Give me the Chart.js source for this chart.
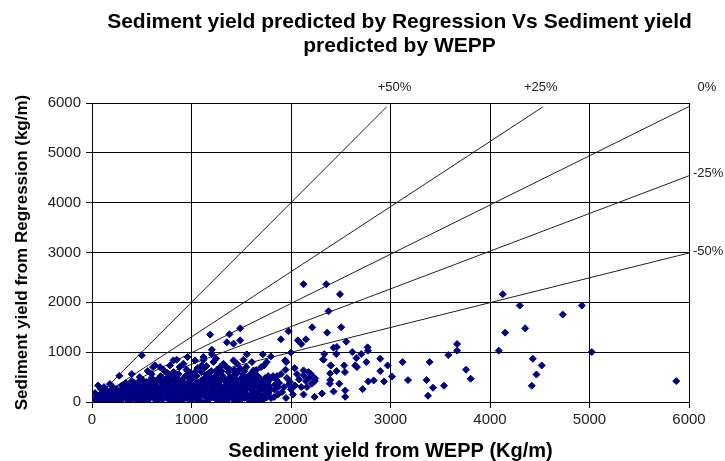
<!DOCTYPE html>
<html>
<head>
<meta charset="utf-8">
<title>Sediment yield - Regression vs WEPP</title>
<script src="https://cdn.jsdelivr.net/npm/chart.js@4.4.1/dist/chart.umd.min.js"></script>
<style>
  html, body { margin: 0; padding: 0; background: #fff; }
  #wrap { width: 725px; height: 461px; }
</style>
</head>
<body>
<div id="wrap"><canvas id="sedimentChart" width="725" height="461"></canvas></div>
<script>
/* ===== data ===== */

// [sediment yield from WEPP, sediment yield from Regression] (kg/m)
const sedimentPoints = [
  // far right, scattered
  [4128,2163],[4299,1935],[4731,1754],[4923,1935],[4152,1392],[4353,1479],[4088,1030],[5023,1002],
  [4430,869],[4520,734],[4467,553],[4420,326],[5872,419],
  [3669,1163],[3669,1030],[3581,942],[3759,648],[3806,467],[3393,801],[3122,801],[3176,439],
  [3363,439],[3427,286],[3377,125],[3538,326],
  [3015,513],[2971,734],[2935,412],[2897,869],[2897,620],[2831,433],[2777,412],[2720,258],
  // 2000 - 2900
  [2126,2364],[2354,2364],[2492,2163],[2377,1821],[2213,1499],[2505,1499],[2364,1392],[1975,1418],
  [1898,1258],[2069,1237],[2150,1258],[2103,1163],[2555,1211],[2428,1090],[2770,1097],[2773,1030],
  [2616,1002],[2706,962],[2656,881],[2334,962],[2455,962],[2327,849],[2757,801],[2646,734],
  [2663,700],[2535,734],[2398,734],[2458,620],[2542,600],[2394,440],[2391,366],[2485,366],
  [2210,366],[2103,300],[2126,533],[2220,500],[2036,680],[1952,801],[1945,648],[1868,151],
  [1835,250],[2019,151],[2126,151],[2237,104],[2311,171],[2428,211],[2545,231],[2545,104],
  [1999,990],[2461,1103],[2321,855],[2401,734],[2126,634],[2176,600],[2243,473],[2394,573],
  [1820,520],[1850,450],[1880,380],[1900,560],[1930,300],[1960,480],[1990,400],[2040,330],
  [2060,560],[2080,450],[2000,250],[1870,300],[1840,350],[2150,420],[2180,480],[2160,300],
  [2200,560],[2240,420],
  // 500 - 2000, above the dense cloud
  [1187,1352],[1381,1358],[1489,1479],[1489,1237],[1422,1171],[1355,1197],[1204,1050],[1204,956],
  [1556,956],[1522,849],[1422,835],[1120,902],[1036,835],[818,835],[919,768],[1103,734],
  [1220,801],[1321,768],[1456,768],[1607,801],[1288,700],[1372,670],[1489,670],[1120,670],
  [1247,869],[1120,849],[959,902],[852,849],[784,734],[684,701],[634,734],[614,701],
  [500,936],[275,527],[1717,956],[1798,915],[1757,801],[1730,734],[1942,835],[1623,634],
  [560,620],[720,640],[880,700],[950,650],[1060,680],[1150,720],[1260,650],[1340,720],
  [1430,640],[1550,700],[1650,640],[1700,700],
  // near the origin, along the lines
  [60,330],[30,180],[120,300],[180,360],[90,260],
  // dense cloud
  [20,10],[30,40],[40,80],[50,20],[60,120],[70,50],[80,150],[90,30],[100,90],[110,200],
  [120,60],[130,130],[140,250],[150,20],[160,100],[170,170],[180,60],[190,230],[200,130],[210,300],
  [220,40],[230,180],[240,90],[250,260],[260,150],[270,20],[280,210],[290,110],[300,330],[310,60],
  [320,250],[330,170],[340,380],[350,100],[360,300],[370,30],[380,210],[390,140],[400,420],[410,80],
  [420,340],[430,250],[440,160],[450,30],[460,380],[470,280],[480,120],[490,200],[500,450],[510,60],
  [520,330],[530,240],[540,150],[550,400],[560,20],[570,290],[580,190],[590,100],[600,480],[610,360],
  [620,250],[630,50],[640,160],[650,420],[660,310],[670,90],[680,220],[690,520],[700,30],[710,380],
  [720,150],[730,270],[740,460],[750,80],[760,330],[770,200],[780,540],[790,20],[800,400],[810,120],
  [820,280],[830,480],[840,180],[850,60],[860,350],[870,560],[880,240],[890,130],[900,440],[910,30],
  [920,310],[930,200],[940,520],[950,90],[960,380],[970,260],[980,150],[990,580],[1000,40],[1010,450],
  [1020,320],[1030,200],[1040,100],[1050,520],[1060,400],[1070,260],[1080,160],[1090,20],[1100,600],[1110,340],
  [1120,220],[1130,470],[1140,110],[1150,550],[1160,300],[1170,40],[1180,420],[1190,190],[1200,620],[1210,360],
  [1220,90],[1230,500],[1240,250],[1250,150],[1260,580],[1270,30],[1280,400],[1290,300],[1300,200],[1310,530],
  [1320,100],[1330,460],[1340,340],[1350,20],[1360,240],[1370,600],[1380,150],[1390,420],[1400,300],[1410,60],
  [1420,520],[1430,200],[1440,380],[1450,120],[1460,580],[1470,260],[1480,30],[1490,460],[1500,340],[1510,180],
  [1520,550],[1530,80],[1540,400],[1550,250],[1560,150],[1570,500],[1580,30],[1590,320],[1600,430],[1620,200],
  [1640,560],[1660,100],[1680,380],[1700,260],[1720,40],[1740,480],[1760,160],[1780,320],[1800,80],
  [35,15],[75,25],[115,45],[155,70],[195,35],[235,110],[275,75],[315,130],[355,45],[395,180],
  [435,90],[475,230],[515,140],[555,60],[595,200],[635,300],[675,130],[715,240],[755,350],[795,170],
  [835,60],[875,290],[915,380],[955,220],[995,120],[1035,330],[1075,60],[1115,250],[1155,410],[1195,140],
  [1235,330],[1275,230],[1315,60],[1355,400],[1395,180],[1435,290],[1475,100],[1515,360],[1555,450],[1595,130],
  [1635,300],[1675,220],[1715,400],[1755,90],[1795,250],[1610,30],[1650,460],[1690,120],[1730,310],[1770,520],
  [1830,100],[1860,520],[1910,200],[1950,80],[1980,350],
  [25,60],[65,90],[105,140],[145,180],[185,110],[225,250],[265,200],[305,260],[345,220],[385,300],
  [425,380],[465,330],[505,280],[545,350],[585,420],[625,380],[665,460],[705,320],[745,410],[785,270],
  [825,380],[865,440],[905,250],[945,350],[985,480],[1025,560],[1065,330],[1105,440],[1145,240],[1185,520],
  [1225,420],[1265,370],[1305,470],[1345,280],[1385,500],[1425,440],[1465,350],[1505,480],[1545,330],[1585,540],
  [1625,400],[1665,520],[1705,330],[1745,220],[1785,440],
  [45,45],[85,70],[125,100],[165,140],[205,80],[245,40],[285,150],[325,90],[365,200],[405,130],
  [445,240],[485,60],[525,190],[565,250],[605,100],[645,230],[685,50],[725,350],[765,130],[805,240],
  [845,130],[885,50],[925,120],[965,60],[1005,250],[1045,180],[1085,380],[1125,130],[1165,200],[1205,290],
  [1245,50],[1285,140],[1325,280],[1365,80],[1405,220],[1445,50],[1485,180],[1525,240],[1565,80],[1605,230],
  [1645,160],[1685,40],[1725,150],[1765,380],
  [400,560],[480,500],[600,560],[760,580],[820,600],[960,620],[1040,610],[1180,590],[1300,620],[1440,580],
  [1530,620],[1600,560],
  [15,30],[55,60],[95,110],[135,70],[175,30],[215,160],[255,120],[295,40],[335,280],[375,110],
  [415,200],[455,300],[495,100],[535,40],[575,160],[615,300],[655,180],[695,420],[735,190],[775,80],
  [815,330],[855,220],[895,340],[935,160],[975,420],[1015,120],[1055,280],[1095,200],[1135,360],[1175,80],
  [1215,220],[1255,480],[1295,100],[1335,180],[1375,330],[1415,140],[1455,440],[1495,250],[1535,170],[1575,380],
  [1615,110],[1655,380],[1695,460],[1735,80],[1775,180],
  [390,40],[440,320],[520,420],[580,330],[650,20],[700,200],[780,440],[850,470],[900,80],[980,330],
  [1050,50],[1100,160],[1150,30],[1200,460],[1270,120],[1330,40],[1400,380],[1460,20],[1500,60],[1560,300],
  [1620,500],[1680,300],[1740,300],[1700,100],[1650,50]
];

// reference lines from the origin
const lineLabels = ["+50%", "+25%", "0%", "-25%", "-50%"];
const lineEnds = [[2960, 5920], [4530, 5920], [6000, 5930], [6000, 4540], [6000, 2990]];

const axisTicks = [0, 1000, 2000, 3000, 4000, 5000, 6000];

const chartTitle = ["Sediment yield predicted by Regression Vs Sediment yield", "predicted by WEPP"];
const xTitle = "Sediment yield from WEPP (Kg/m)";
const yTitle = "Sediment yield from Regression (kg/m)";

/* ===== chart ===== */

const FONT = '"Liberation Sans", Arial, sans-serif';

// title and line labels sit outside the plot area
const labelsPlugin = {
  id: "labels",
  afterDraw(chart) {
    const { ctx, chartArea, scales } = chart;
    ctx.save();
    ctx.fillStyle = "#000";
    ctx.font = "bold 21px " + FONT;
    ctx.textAlign = "center";
    ctx.textBaseline = "alphabetic";
    const cx = (chartArea.left + chartArea.right) / 2 + 9;
    chartTitle.forEach((line, i) => ctx.fillText(line, cx, 28 + i * 24));

    const topShift = [8, -2, 18, 0, 0];
    ctx.font = "13px " + FONT;
    ctx.fillStyle = "#222";
    ctx.textBaseline = "middle";
    lineEnds.forEach(([ex, ey], i) => {
      const px = scales.x.getPixelForValue(ex);
      const py = scales.y.getPixelForValue(ey);
      if (ex < 6000 || ey > 5800) {
        ctx.textAlign = "center";
        ctx.fillText(lineLabels[i], px + topShift[i], chartArea.top - 16);
      } else {
        ctx.textAlign = "left";
        ctx.fillText(lineLabels[i], chartArea.right + 4, py - 2);
      }
    });
    ctx.restore();
  }
};

const refDatasets = lineEnds.map(([ex, ey], i) => ({
  type: "line",
  label: lineLabels[i],
  data: [{ x: 0, y: 0 }, { x: ex, y: ey }],
  borderColor: "#222",
  borderWidth: 1,
  pointRadius: 0,
  fill: false
}));

const tickFont = { family: FONT, size: 15 };

new Chart(document.getElementById("sedimentChart"), {
  type: "scatter",
  data: {
    datasets: [
      {
        label: "Sediment yield",
        data: sedimentPoints.map(p => ({ x: p[0], y: p[1] })),
        pointStyle: "rectRot",
        pointRadius: 3.5,
        borderWidth: 1,
        backgroundColor: "#000080",
        borderColor: "#000080"
      },
      ...refDatasets
    ]
  },
  plugins: [labelsPlugin],
  options: {
    responsive: false,
    animation: false,
    devicePixelRatio: 1,
    layout: { padding: { top: 103, right: 36, bottom: 0, left: 0 } },
    plugins: {
      legend: { display: false },
      tooltip: { enabled: false },
      title: { display: false }
    },
    scales: {
      x: {
        type: "linear",
        min: 0,
        max: 6000,
        afterBuildTicks: s => { s.ticks = axisTicks.map(v => ({ value: v })); },
        afterFit: s => { s.height = 59; },
        ticks: { color: "#222", font: tickFont, padding: 3, maxRotation: 0, callback: v => String(v) },
        grid: { color: "#000", lineWidth: 1, tickLength: 6 },
        border: { color: "#000" },
        title: {
          display: true, text: xTitle, color: "#000", padding: 0,
          font: { family: FONT, size: 20, weight: "bold", lineHeight: 1 }
        }
      },
      y: {
        type: "linear",
        min: 0,
        max: 6000,
        afterBuildTicks: s => { s.ticks = axisTicks.map(v => ({ value: v })); },
        afterFit: s => { s.width = 92; },
        ticks: { color: "#222", font: tickFont, padding: 5, callback: v => String(v) },
        grid: { color: "#000", lineWidth: 1, tickLength: 6 },
        border: { color: "#000" },
        title: {
          display: true, text: yTitle, color: "#000", padding: { top: 12, bottom: 0 },
          font: { family: FONT, size: 17, weight: "bold" }
        }
      }
    }
  }
});
</script>
</body>
</html>
